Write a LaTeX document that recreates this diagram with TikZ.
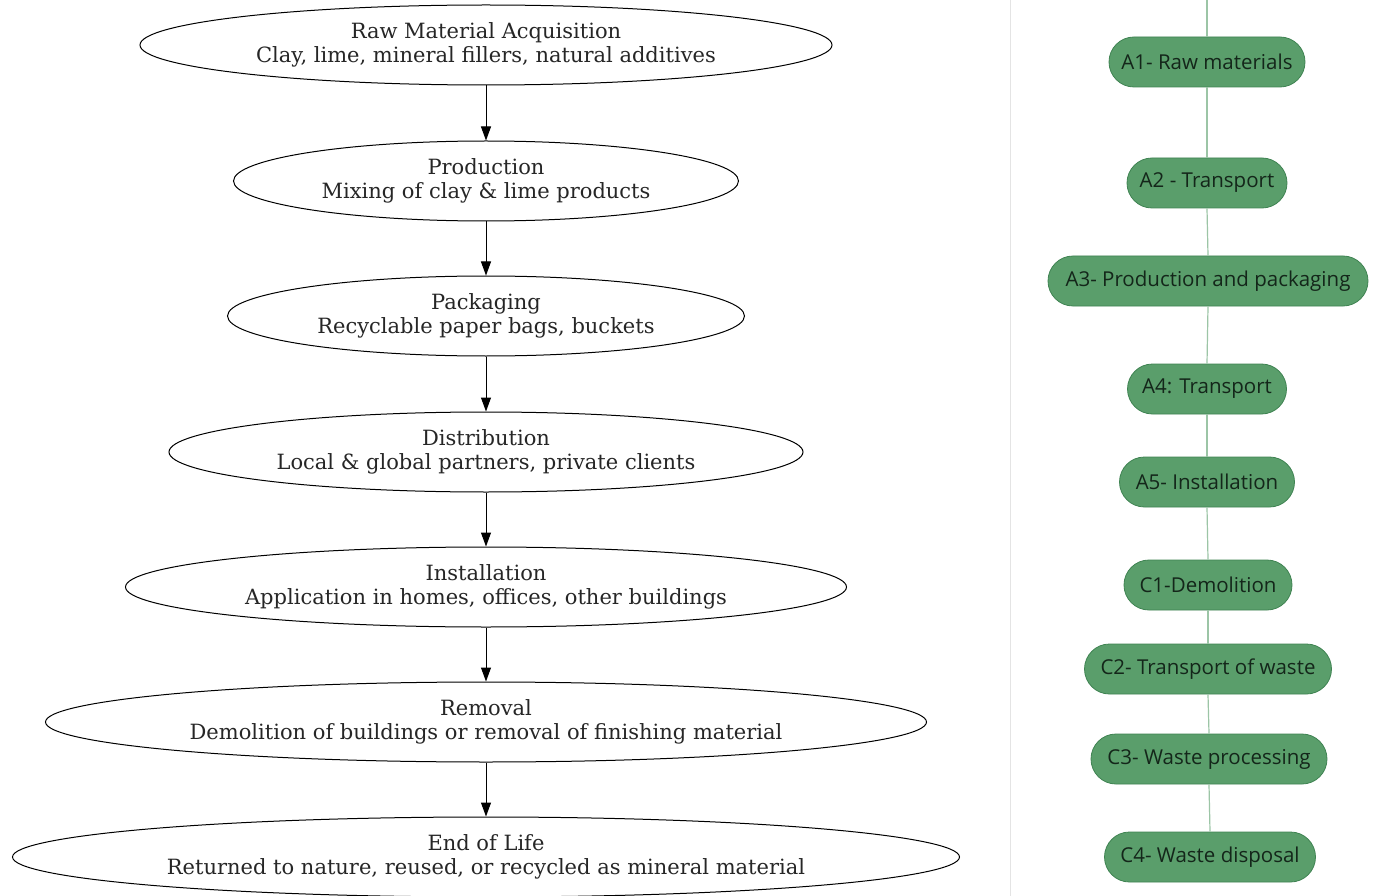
\documentclass[tikz,border=0pt]{standalone}
\usepackage{fontspec}
\setmainfont{DejaVu Serif}
\newfontfamily\pillfont{Open Sans}
\usetikzlibrary{shapes.geometric,shapes.misc,arrows.meta}
\definecolor{pillgreen}{HTML}{5A9E6B}
\definecolor{pilledge}{HTML}{3F8352}
\definecolor{pilltext}{HTML}{14261A}
\definecolor{stemline}{HTML}{9CC5A6}
\definecolor{sepline}{HTML}{E4E4E4}
\begin{document}
\begin{tikzpicture}[x=1pt,y=-1pt,
  stage/.style={ellipse, draw, line width=1pt, inner sep=0pt, align=center, minimum height=80pt,
    font=\fontsize{21}{23.5}\selectfont, text=black!85},
  flow/.style={line width=1pt, -{Triangle[length=14pt,width=10pt]}},
  pill/.style={rounded rectangle, fill=pillgreen, draw=pilledge, line width=0.8pt, minimum height=50pt,
    inner xsep=0pt, text=pilltext, font=\pillfont\fontsize{20.5}{22}\selectfont},
  stem/.style={draw=stemline, line width=1.2pt}]
\useasboundingbox (0,0) rectangle (1374,896);
\fill[white] (0,0) rectangle (1374,896);
% separator
\coordinate (septop) at (1010,0);
\coordinate (sepbot) at (1010,896);
\draw[sepline, line width=1pt] (septop) -- (sepbot);
% left flow
\node[stage, minimum width=692pt] (e1) at (486,45) {Raw Material Acquisition\\Clay, lime, mineral fillers, natural additives};
\node[stage, minimum width=505pt] (e2) at (486,181) {Production\\Mixing of clay \& lime products};
\node[stage, minimum width=517pt] (e3) at (486,316) {Packaging\\Recyclable paper bags, buckets};
\node[stage, minimum width=634pt] (e4) at (486,452) {Distribution\\Local \& global partners, private clients};
\node[stage, minimum width=721pt] (e5) at (486,587) {Installation\\Application in homes, offices, other buildings};
\node[stage, minimum width=881pt] (e6) at (486,722) {Removal\\Demolition of buildings or removal of finishing material};
\node[stage, minimum width=947pt] (e7) at (486,857) {End of Life\\Returned to nature, reused, or recycled as mineral material};
\foreach \a/\b in {e1/e2,e2/e3,e3/e4,e4/e5,e5/e6,e6/e7}
  \draw[flow] (\a.south) -- (\b.north);
% right timeline
\coordinate (stemtop) at (1207,0);
\node[pill, minimum width=196pt] (a1) at (1207,62) {A1- Raw materials};
\node[pill, minimum width=160pt] (a2) at (1207,183) {A2 - Transport};
\node[pill, minimum width=320pt] (a3) at (1208,281) {A3- Production and packaging};
\node[pill, minimum width=159pt] (a4) at (1207,389) {A4: Transport};
\node[pill, minimum width=175pt] (a5) at (1207,482) {A5- Installation};
\node[pill, minimum width=168pt] (c1) at (1208,585) {C1-Demolition};
\node[pill, minimum width=247pt] (c2) at (1208,669) {C2- Transport of waste};
\node[pill, minimum width=236pt] (c3) at (1209,759) {C3- Waste processing};
\node[pill, minimum width=211pt] (c4) at (1210,857) {C4- Waste disposal};
\draw[stem] (stemtop) -- (a1.north);
\foreach \a/\b in {a1/a2,a2/a3,a3/a4,a4/a5,a5/c1,c1/c2,c2/c3,c3/c4}
  \draw[stem] (\a.south) -- (\b.north);
\end{tikzpicture}
\end{document}
